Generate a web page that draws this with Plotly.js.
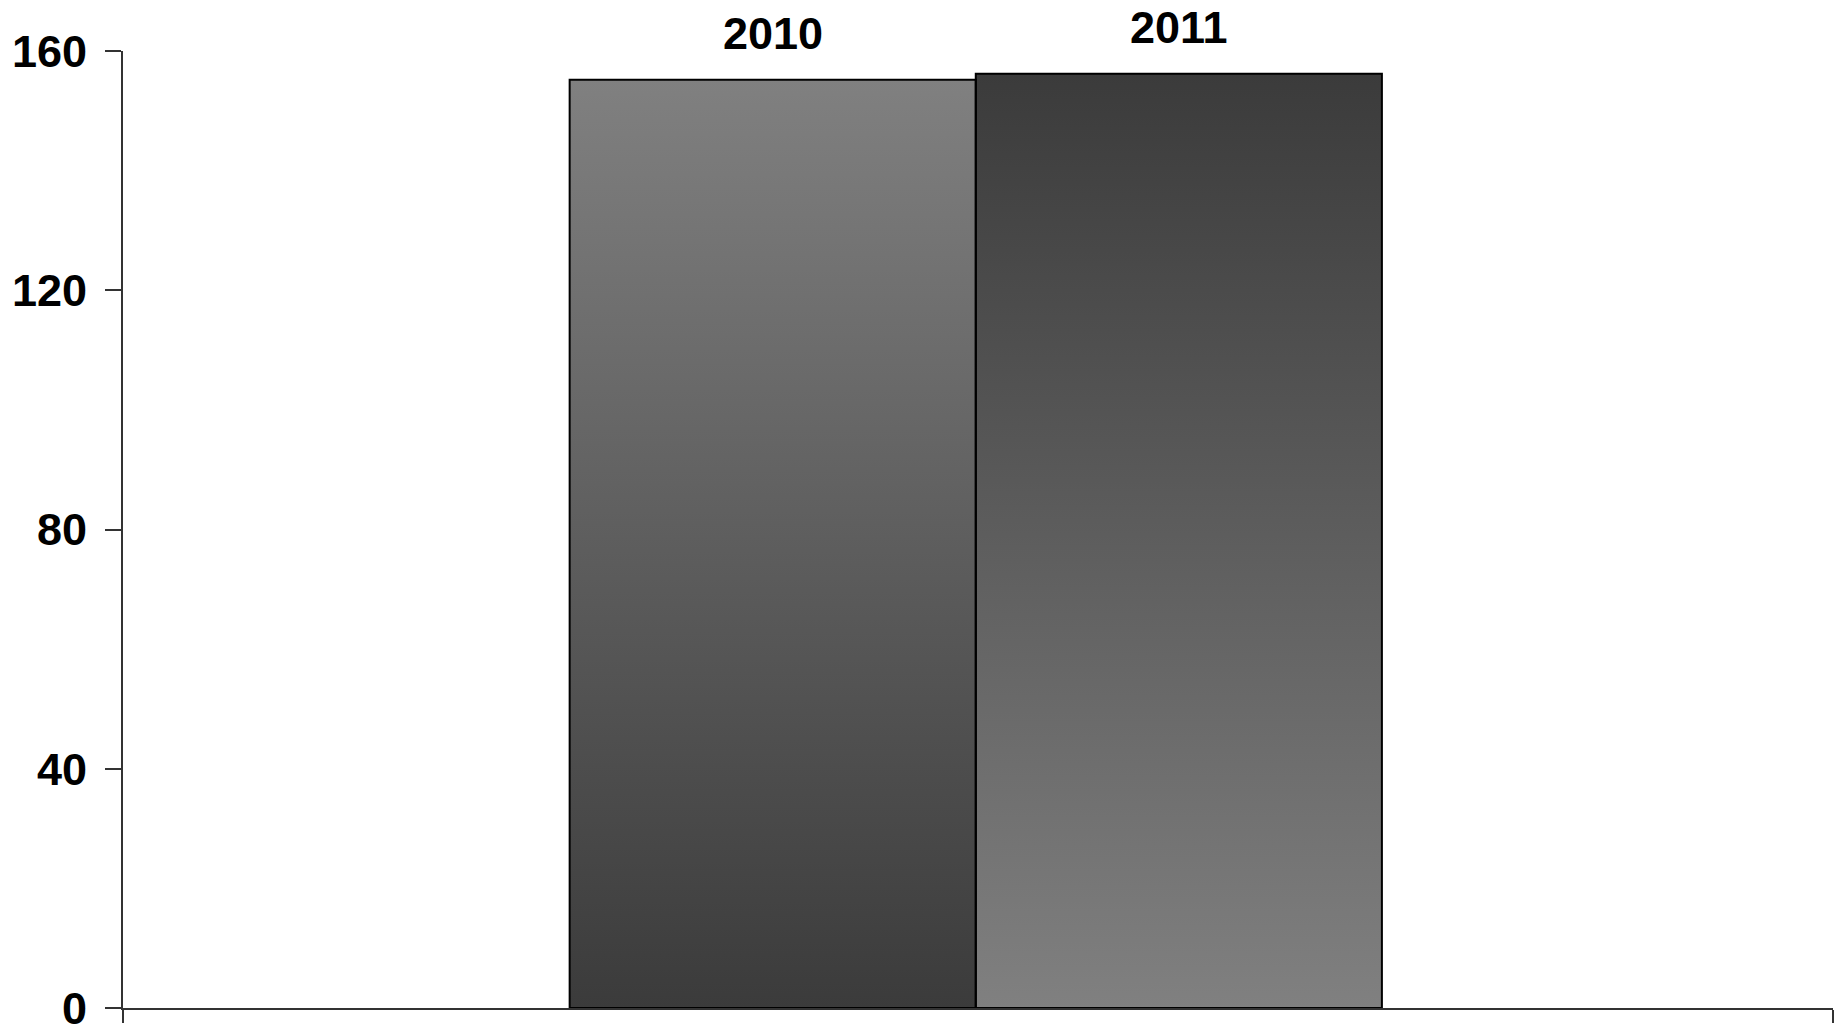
<!DOCTYPE html>
<html><head><meta charset="utf-8">
<script src="https://cdn.plot.ly/plotly-3.0.1.min.js"></script>
<style>html,body{margin:0;padding:0;background:#fff}#chart{width:1837px;height:1029px}</style>
</head><body><div id="chart"></div>
<script>
const years = ['2010', '2011'];
const values = [155.2, 156.2];
const yTicks = [0, 40, 80, 120, 160];
const topColors = ['#808080', '#3b3b3b'];
const bottomColors = ['#3b3b3b', '#808080'];

const groupWidth = 0.475;
const groupCenter = -0.0013;
const barW = groupWidth / years.length;
const offsets = years.map((_, i) => groupCenter - groupWidth / 2 + i * barW);
const FONT = "'Liberation Sans', Arial, sans-serif";

const traces = [];
years.forEach((yr, i) => {
  const x0 = offsets[i], x1 = offsets[i] + barW;
  traces.push({
    type: 'scatter', mode: 'none',
    x: [x0, x0, x1, x1, x0], y: [0, values[i], values[i], 0, 0],
    fill: 'toself',
    fillgradient: {type: 'vertical', colorscale: [[0, bottomColors[i]], [1, topColors[i]]]},
    hoverinfo: 'skip', showlegend: false, xaxis: 'x', yaxis: 'y'
  });
});
traces.push({
  type: 'bar', x: years.map(() => 0), y: values, base: 0,
  offset: offsets, width: years.map(() => barW),
  marker: {color: 'rgba(0,0,0,0)', line: {color: '#000', width: 2}},
  hovertext: years, hoverinfo: 'text+y',
  xaxis: 'x', yaxis: 'y2', showlegend: false
});

const annotations = years.map((yr, i) => ({
  x: offsets[i] + barW / 2, y: values[i], xref: 'x', yref: 'y',
  text: yr, showarrow: false, yanchor: 'bottom', yshift: 19,
  font: {family: FONT, size: 45, color: '#000', weight: 'bold'}
}));

const axisColor = '#333';
const layout = {
  width: 1837, height: 1029,
  margin: {l: 123, r: 4, t: 51, b: 21, pad: 0},
  paper_bgcolor: '#fff', plot_bgcolor: '#fff',
  showlegend: false,
  xaxis: {
    range: [-0.5, 0.5], tickvals: [-0.5, 0.5], ticktext: ['', ''],
    ticks: 'outside', ticklen: 13, tickwidth: 2, tickcolor: axisColor,
    showline: true, linecolor: axisColor, linewidth: 2,
    showgrid: false, zeroline: false, fixedrange: true
  },
  yaxis: {
    range: [0, 160], tickvals: yTicks, ticktext: yTicks.map(String),
    ticks: 'outside', ticklen: 16, tickwidth: 2, tickcolor: axisColor,
    showline: true, linecolor: axisColor, linewidth: 2,
    showgrid: false, zeroline: false, fixedrange: true,
    ticklabelstandoff: 9, ticklabeloverflow: 'allow',
    tickfont: {family: FONT, size: 45, color: '#000', weight: 'bold'}
  },
  yaxis2: {
    overlaying: 'y', side: 'left', range: [0, 160],
    showline: false, showticklabels: false, ticks: '', showgrid: false,
    zeroline: false, fixedrange: true
  },
  annotations: annotations
};

Plotly.newPlot('chart', traces, layout, {displayModeBar: false, staticPlot: true});
</script>
</body></html>
